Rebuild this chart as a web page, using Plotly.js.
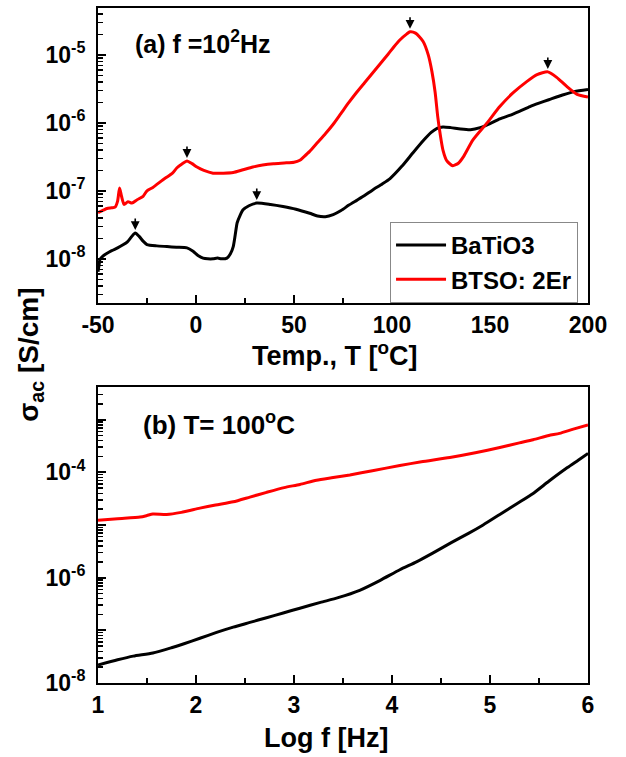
<!DOCTYPE html>
<html><head><meta charset="utf-8">
<script src="https://cdn.plot.ly/plotly-3.0.1.min.js"></script>
<style>html,body{margin:0;padding:0;background:#fff}#chart{width:626px;height:757px}</style>
</head><body><div id="chart"></div><script>
// Panel (a): f = 10^2 Hz, sigma_ac vs temperature (values are log10 of sigma in S/cm)
const tempRedA = [-50,-47,-45.4,-43,-41.3,-40,-39,-38,-36.7,-34.7,-32.7,-30,-27,-25,-22,-17,-15,-12,-9.7,-7,-4.6,-2,0.5,4,8.7,14,19,24,29,34,39.5,45,50,53,55,58,62,66,70,74,78,82,86,90,94,98,101,104,107.6,109.2,112,115.8,118.5,120.4,122,123.3,124.5,126,128,131,134,136.4,141.3,148.5,155,161.7,168.9,174,179.5,184,189,194.4,200];
const logSigmaRedA = [-7.32,-7.28,-7.26,-7.25,-7.24,-7.15,-6.96,-7.08,-7.20,-7.16,-7.18,-7.13,-7.08,-7.0,-6.95,-6.84,-6.80,-6.74,-6.66,-6.60,-6.56,-6.60,-6.65,-6.70,-6.74,-6.74,-6.73,-6.69,-6.65,-6.62,-6.60,-6.59,-6.58,-6.55,-6.50,-6.42,-6.29,-6.16,-6.02,-5.86,-5.70,-5.55,-5.41,-5.27,-5.13,-4.99,-4.88,-4.78,-4.69,-4.66,-4.68,-4.80,-5.0,-5.25,-5.55,-5.90,-6.15,-6.40,-6.56,-6.63,-6.59,-6.50,-6.25,-6.0,-5.76,-5.56,-5.39,-5.29,-5.25,-5.33,-5.46,-5.58,-5.62];
const tempBlackA = [-50,-49.5,-49,-47.5,-46,-43,-40,-37,-35,-33,-31,-29,-27,-25,-20,-14.8,-10,-4.6,-1.5,1,3.6,6,8.7,11,13,15.8,17.5,19,20,21,22.5,24,27,31,38,44.4,51,58,62,66,70,74,78,82,86,90,95,99,105,110.7,116,120,123,126,130,135,140,145,150,155,160,165,170.4,175,180,187,193,200];
const logSigmaBlackA = [-8.19,-8.10,-8.01,-7.96,-7.93,-7.88,-7.84,-7.79,-7.75,-7.68,-7.62,-7.67,-7.74,-7.79,-7.81,-7.82,-7.83,-7.84,-7.89,-7.95,-7.99,-8.0,-8.0,-7.99,-8.0,-7.99,-7.93,-7.82,-7.65,-7.47,-7.36,-7.28,-7.22,-7.18,-7.20,-7.23,-7.27,-7.33,-7.37,-7.38,-7.35,-7.29,-7.21,-7.14,-7.07,-6.99,-6.90,-6.82,-6.64,-6.44,-6.26,-6.14,-6.08,-6.06,-6.07,-6.09,-6.10,-6.07,-6.01,-5.94,-5.89,-5.83,-5.76,-5.71,-5.66,-5.59,-5.54,-5.51];
const peaksRedA = [-4.6, 109.2, 179.5];
const peaksBlackA = [-31, 31];

// Panel (b): T = 100 C, sigma_ac vs log frequency
const logFreqRedB = [1.0,1.2,1.43,1.5,1.56,1.7,1.85,2.04,2.2,2.38,2.55,2.72,2.9,3.06,3.23,3.4,3.57,3.8,4.08,4.3,4.59,4.85,5.1,5.3,5.44,5.6,5.71,5.85,6.0];
const logSigmaRedB = [-4.91,-4.88,-4.85,-4.82,-4.79,-4.80,-4.76,-4.68,-4.62,-4.56,-4.47,-4.38,-4.29,-4.23,-4.15,-4.10,-4.05,-3.97,-3.87,-3.80,-3.72,-3.63,-3.53,-3.44,-3.38,-3.30,-3.26,-3.18,-3.10];
const logFreqBlackB = [1.0,1.2,1.36,1.56,1.75,1.87,2.04,2.21,2.38,2.55,2.72,2.89,3.06,3.27,3.45,3.67,3.88,4.08,4.25,4.42,4.6,4.78,4.93,5.1,5.27,5.44,5.6,5.79,5.9,6.0];
const logSigmaBlackB = [-7.66,-7.56,-7.49,-7.43,-7.33,-7.26,-7.15,-7.04,-6.94,-6.85,-6.76,-6.67,-6.58,-6.47,-6.38,-6.24,-6.05,-5.85,-5.70,-5.53,-5.34,-5.16,-5.00,-4.80,-4.60,-4.40,-4.17,-3.91,-3.77,-3.64];

const seriesNames = ['BaTiO3', 'BTSO: 2Er'];
const tempTicks = [-50, 0, 50, 100, 150, 200];
const freqTicks = [1, 2, 3, 4, 5, 6];
const decadesA = [-8, -7, -6, -5];
const decadesB = [-8, -7, -6, -5, -4, -3];
const labelledDecadesB = [-8, -6, -4];

const toSigma = a => a.map(v => Math.pow(10, v));
const FONT = 'Liberation Sans, Arial, sans-serif';
const BLACK = '#000000', RED = '#ff0000';

function minorLogVals(lo, hi) {
  const out = [];
  for (let d = lo; d <= hi; d++) for (let k = 2; k <= 9; k++) out.push(k * Math.pow(10, d));
  return out;
}

const line = (c) => ({color: c, width: 3, shape: 'spline', smoothing: 0.6});
const traces = [
  {x: tempBlackA, y: toSigma(logSigmaBlackA), xaxis: 'x', yaxis: 'y', mode: 'lines', name: seriesNames[0], line: line(BLACK)},
  {x: tempRedA, y: toSigma(logSigmaRedA), xaxis: 'x', yaxis: 'y', mode: 'lines', name: seriesNames[1], line: line(RED)},
  {x: logFreqBlackB, y: toSigma(logSigmaBlackB), xaxis: 'x2', yaxis: 'y2', mode: 'lines', name: seriesNames[0], line: line(BLACK), showlegend: false},
  {x: logFreqRedB, y: toSigma(logSigmaRedB), xaxis: 'x2', yaxis: 'y2', mode: 'lines', name: seriesNames[1], line: line(RED), showlegend: false}
];

const tickFont = {family: FONT, size: 23, color: BLACK, weight: 'bold'};
const titleFont = {family: FONT, size: 27, color: BLACK, weight: 'bold'};
const common = {showline: true, linewidth: 2, linecolor: BLACK, mirror: true, ticks: 'inside', ticklen: 8, tickwidth: 2, tickcolor: BLACK, showgrid: false, zeroline: false, tickfont: tickFont};

function nearestLog(xs, ys, x0) {
  let best = 0;
  xs.forEach((x, i) => { if (Math.abs(x - x0) < Math.abs(xs[best] - x0)) best = i; });
  return ys[best];
}
const arrow = (x, y) => ({x: x, y: y, xref: 'x', yref: 'y', showarrow: true, arrowhead: 2, arrowsize: 1.1, arrowwidth: 1.6, arrowcolor: BLACK, ax: 0, ay: -16, standoff: 3, text: ''});
const annotations = [];
peaksRedA.forEach(t => annotations.push(arrow(t, nearestLog(tempRedA, logSigmaRedA, t))));
peaksBlackA.forEach(t => annotations.push(arrow(t, nearestLog(tempBlackA, logSigmaBlackA, t))));
annotations.push({xref: 'paper', yref: 'paper', x: 0.071, y: 0.950, xanchor: 'left', yanchor: 'middle', showarrow: false, text: '(a) f =10<sup>2</sup>Hz', font: {family: FONT, size: 25, color: BLACK, weight: 'bold'}});
annotations.push({xref: 'paper', yref: 'paper', x: 0.088, y: 0.385, xanchor: 'left', yanchor: 'middle', showarrow: false, text: '(b) T= 100<sup>o</sup>C', font: {family: FONT, size: 26, color: BLACK, weight: 'bold'}});
annotations.push({xref: 'paper', yref: 'paper', x: -0.137, y: 0.486, xanchor: 'center', yanchor: 'middle', showarrow: false, textangle: -90, text: 'σ<sub>ac</sub> [S/cm]', font: {family: FONT, size: 28, color: BLACK, weight: 'bold'}});
annotations.push({xref: 'paper', yref: 'paper', x: 0.4837, y: 0.4874, xanchor: 'center', yanchor: 'middle', showarrow: false, text: 'Temp., T [<sup>o</sup>C]', font: titleFont});
annotations.push({xref: 'paper', yref: 'paper', x: 0.4653, y: -0.0815, xanchor: 'center', yanchor: 'middle', showarrow: false, text: 'Log f [Hz]', font: titleFont});

const layout = {
  width: 626, height: 757,
  margin: {l: 98, r: 38, t: 8, b: 74},
  paper_bgcolor: '#fff', plot_bgcolor: '#fff',
  font: {family: FONT, color: BLACK, weight: 'bold'},
  showlegend: true,
  legend: {x: 0.596, y: 0.683, xanchor: 'left', yanchor: 'top', bgcolor: '#fff', bordercolor: '#888', borderwidth: 1, itemwidth: 50, font: {family: FONT, size: 24, color: BLACK, weight: 'bold'}, tracegroupgap: 0},
  xaxis: Object.assign({}, common, {anchor: 'y', range: [-50, 200], tickvals: tempTicks, ticktext: tempTicks.map(String),
    minor: {tick0: -50, dtick: 25, ticks: 'inside', ticklen: 5, tickwidth: 2, tickcolor: BLACK}}),
  yaxis: Object.assign({}, common, {anchor: 'x', type: 'log', domain: [0.563, 1], range: [-8.65, -4.31],
    tickvals: decadesA.map(d => Math.pow(10, d)), ticktext: decadesA.map(d => '10<sup>' + d + '</sup>'), ticklabelstandoff: 6,
    minor: {tickvals: minorLogVals(-9, -4), ticks: 'inside', ticklen: 5, tickwidth: 1.5, tickcolor: BLACK}}),
  xaxis2: Object.assign({}, common, {anchor: 'y2', range: [1, 6], tickvals: freqTicks, ticktext: freqTicks.map(String),
    minor: {tick0: 1, dtick: 0.5, ticks: 'inside', ticklen: 5, tickwidth: 2, tickcolor: BLACK}}),
  yaxis2: Object.assign({}, common, {anchor: 'x2', type: 'log', domain: [0, 0.4385], range: [-8, -2.38],
    tickvals: decadesB.map(d => Math.pow(10, d)), ticktext: decadesB.map(d => labelledDecadesB.includes(d) ? '10<sup>' + d + '</sup>' : ''), ticklabelstandoff: 6,
    minor: {tickvals: minorLogVals(-9, -3), ticks: 'inside', ticklen: 5, tickwidth: 1.5, tickcolor: BLACK}}),
  annotations: annotations
};

Plotly.newPlot('chart', traces, layout, {displayModeBar: false, staticPlot: true});
</script></body></html>
